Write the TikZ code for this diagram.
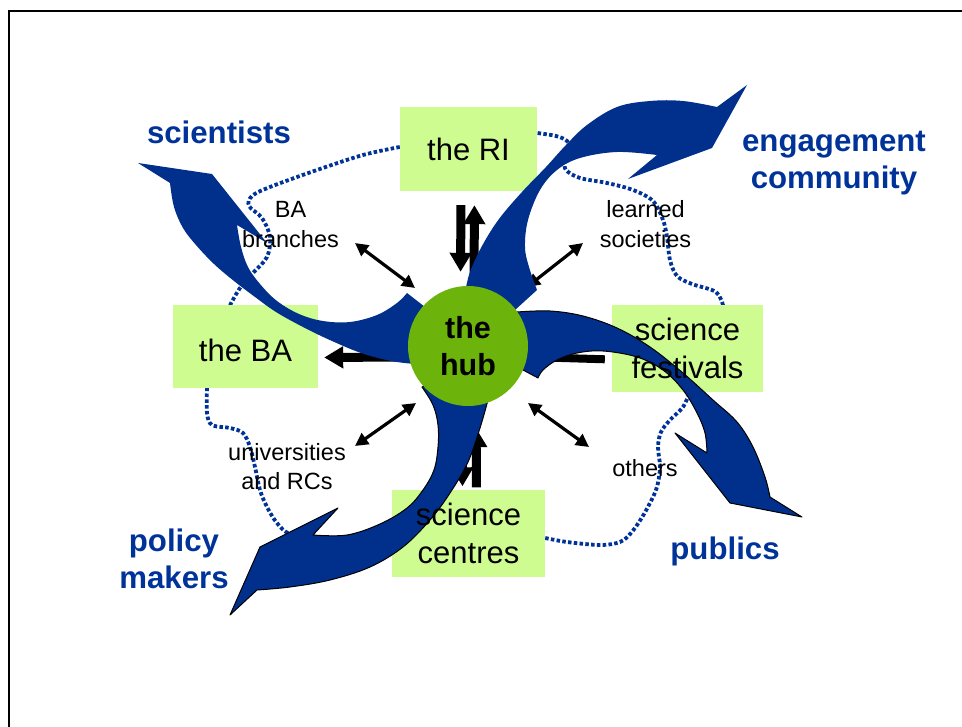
\documentclass[tikz,border=0pt]{standalone}
\usepackage{fontspec}
\setmainfont{Liberation Sans}
\usetikzlibrary{arrows.meta,calc}

\definecolor{slideblue}{RGB}{0,51,153}
\definecolor{swirlblue}{RGB}{0,48,140}
\definecolor{boxgreen}{RGB}{206,252,145}
\definecolor{hubgreen}{RGB}{108,180,12}

\pgfdeclarelayer{bg}
\pgfdeclarelayer{swirls}
\pgfsetlayers{bg,swirls,main}

\tikzset{
  boxtext/.style={inner sep=0pt, align=center, font=\fontsize{31}{38}\selectfont},
  boxfill/.style={fill=boxgreen},
  hubnode/.style={circle, fill=hubgreen, minimum size=120pt, inner sep=0pt,
    align=center, font=\bfseries\fontsize{30.5}{37}\selectfont},
  bluelabel/.style={inner sep=0pt, align=center, text=slideblue,
    font=\bfseries\fontsize{31.2}{37.5}\selectfont},
  smalllabel/.style={inner sep=0pt, align=center, font=\fontsize{23.5}{29.5}\selectfont},
  thickarrow/.style={line width=9pt, -{Triangle[length=19pt,width=21pt]}},
  thickbar/.style={line width=8pt},
  dblarrow/.style={line width=3.2pt, {Triangle[length=13pt,width=13pt]}-{Triangle[length=13pt,width=13pt]}},
  dotloop/.style={slideblue, line width=3.8pt, dash pattern=on 3.5pt off 2.3pt},
  swirlfill/.style={fill=swirlblue},
  swirlout/.style={fill=swirlblue, draw=black, line width=1pt, line join=round},
}

\begin{document}
\begin{tikzpicture}[x=1pt,y=-1pt]
\useasboundingbox (0,0) rectangle (962,727);

% slide frame
\draw[line width=2pt] (9,727) -- (9,11) -- (962,11);

% boxes (text only; fills go on the back layer)
\node[boxtext, minimum width=137pt, minimum height=84pt] (ri) at (468.5,149) {the RI};
\node[boxtext, minimum width=145pt, minimum height=82pt] (ba) at (245.5,346.5) {\raisebox{-4.5pt}[22pt][0pt]{the BA}};
\node[boxtext, minimum width=151pt, minimum height=86pt] (fest) at (687.5,348.5) {science\\festivals};
\node[boxtext, minimum width=153pt, minimum height=86pt] (cent) at (468.5,533.5) {science\\centres};

% the hub sits above the swirls
\node[hubnode] (hub) at (468,346) {the\\hub};

% outer labels
\node[bluelabel] (sci) at (219,132) {scientists};
\node[bluelabel] (eng) at (834,163) {engagement\\community};
\node[bluelabel] (pol) at (174,559) {policy\\makers};
\node[bluelabel] (pub) at (725,551) {publics};

% inner labels
\node[smalllabel] (babr) at (290.5,224.5) {BA\\branches};
\node[smalllabel] (learn) at (645.5,224) {learned\\societies};
\node[smalllabel] (univ) at (287,466.5) {universities\\and RCs};
\node[smalllabel] (oth) at (645,468.5) {others};

\begin{pgfonlayer}{bg}
  % dotted loop joining the four boxes
  \draw[dotloop] plot[smooth,tension=0.55] coordinates {([yshift=2pt]ri.west) (363,155) (317,170) (270,187) (252,196) (249,206) (262,218) (270,237) (267,257) (253,273) (240,288) ([xshift=-15.5pt]ba.north)};
  \draw[dotloop] plot[smooth,tension=0.55] coordinates {([xshift=-38.5pt]ba.south) (207,413) (212,425) (230,428) (243,433) (250,447) (255,467) (260,490) (267,507) (277,523) (290,534) (320,540) (360,540) ([yshift=-6.5pt]cent.west)};
  \draw[dotloop] plot[smooth,tension=0.55] coordinates {([yshift=-4.5pt]cent.east) (567,542) (600,545) (620,542) (631,533) (641,519) (650,503) (657,487) (660,467) (658,447) (661,432) (670,420) (683,407) ([xshift=2.5pt]fest.south)};
  \draw[dotloop] plot[smooth,tension=0.55] coordinates {([xshift=35.5pt]fest.north) (716,292) (692,284) (677,276) (670,260) (667,237) (663,220) (653,201) (633,190) (607,183) (580,178) (566,170) (565,160) (570,150) (567,141) (556,136) ([yshift=16pt]ri.east)};

  % thick arrows between the hub and the boxes
  \draw[thickarrow, shorten <=14pt, shorten >=14pt] ([xshift=-7.5pt]ri.south) -- ([xshift=-7.5pt]hub.north);
  \draw[thickarrow, shorten >=14pt] ([xshift=6pt]hub.north) -- ([xshift=6pt]ri.south);
  \draw[thickarrow, shorten >=6pt] ([yshift=-11pt]hub.west) -- ([yshift=-11pt]ba.east);
  \draw[thickbar, shorten <=7pt, shorten >=12pt] ([yshift=-11pt]fest.west) -- ([yshift=-11pt]hub.east);
  \draw[thickarrow, shorten >=4pt] ([xshift=-6pt]hub.south) -- ([xshift=-6pt]cent.north);
  \draw[thickarrow, shorten <=3pt, shorten >=22pt] ([xshift=8pt]cent.north) -- ([xshift=8pt]hub.south);

  % two-way arrows to the surrounding groups
  \draw[dblarrow] ($(babr)+(64.5,18.5)$) -- ($(hub)+(-53,-58)$);
  \draw[dblarrow] ($(learn)+(-62.5,19)$) -- ($(hub)+(59,-59)$);
  \draw[dblarrow] ($(univ)+(68,-20.5)$) -- ($(hub)+(-52,57)$);
  \draw[dblarrow] ($(oth)+(-56,-21.5)$) -- ($(hub)+(60,57)$);

  % box fills
  \foreach \b in {ri,ba,fest,cent}
    \fill[boxfill] (\b.north west) rectangle (\b.south east);
\end{pgfonlayer}

\begin{pgfonlayer}{swirls}
  % swirl towards the scientists
  \fill[swirlfill] (425,307) -- (407,293)
    -- plot[smooth,tension=0.6] coordinates {(407,293) (397,303) (377,315) (350,322) (323,321) (299,314) (277,301) (260,284) (248,267) (241,247) (237,225)}
    -- (267,243) -- (212,174) -- (138,163) -- (170,183)
    -- plot[smooth,tension=0.6] coordinates {(170,183) (174,207) (183,228) (196,245) (214,264) (234,281) (255,297) (276,312) (303,327) (332,341) (364,354) (397,362) (430,365)}
    -- (440,340) -- cycle;
  % swirl towards the engagement community
  \fill[swirlfill] (515,310) -- (537,290)
    -- plot[smooth,tension=0.6] coordinates {(537,290) (529,267) (525,247) (528,220) (540,190) (557,170) (580,158) (617,152) (657,155)}
    -- (628,179) -- (712,148) -- (747,85) -- (717,107)
    -- plot[smooth,tension=0.6] coordinates {(717,107) (683,101) (650,101) (617,107) (587,125) (566,145) (546,167) (522,192) (499,219) (482,246) (470,272) (465,293) (463,310)}
    -- (490,330) -- cycle;
  % swirl towards the publics
  \filldraw[swirlout] (505,320) -- (517,312)
    -- plot[smooth,tension=0.6] coordinates {(517,312) (550,311) (583,316) (617,328) (650,347) (683,373) (713,400) (737,422) (753,447) (765,477) (770,497)}
    -- (802,517) -- (730,503) -- (675,433) -- (707,453)
    -- plot[smooth,tension=0.6] coordinates {(707,453) (705,433) (697,413) (683,390) (663,370) (637,357) (603,351) (577,353) (557,360) (543,370) (538,378)}
    -- (523,370) -- cycle;
  % swirl towards the policy makers
  \filldraw[swirlout] (440,380) -- (422,387)
    -- plot[smooth,tension=0.6] coordinates {(422,387) (433,405) (438,425) (438,447) (434,470) (423,490) (407,508) (380,524) (347,535) (313,535)}
    -- (338,508) -- (260,547) -- (230,615) -- (257,590)
    -- plot[smooth,tension=0.6] coordinates {(257,590) (290,587) (330,580) (370,567) (403,547) (430,520) (450,493) (468,462) (480,428) (488,400)}
    -- (470,380) -- cycle;
\end{pgfonlayer}

\end{tikzpicture}
\end{document}
